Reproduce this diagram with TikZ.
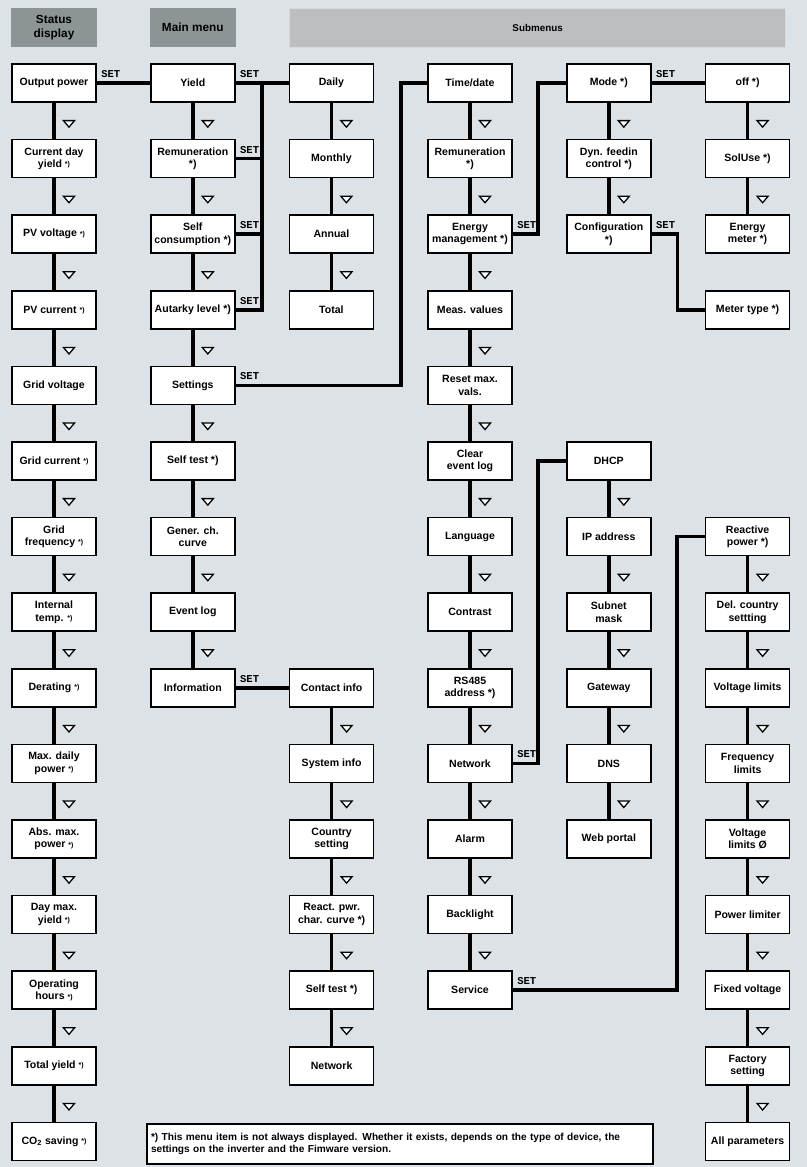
\documentclass[tikz,border=0pt]{standalone}
\usepackage{fontspec}
\setmainfont{Liberation Sans}
\setmonofont{Liberation Mono}
\usetikzlibrary{shapes.geometric,positioning,calc}
\definecolor{panel}{HTML}{DCE2E5}
\definecolor{headdark}{HTML}{8D9496}
\definecolor{headlight}{HTML}{BDBEBF}
\newcommand\smstar{\raisebox{0.6pt}{\fontsize{5}{6}\selectfont *)}}

\begin{document}
\begin{tikzpicture}[
  font=\bfseries\fontsize{7.5}{8.8}\selectfont,
  node distance=0.94cm,
  item/.style={rectangle, draw=black, fill=white, line width=1.1pt, outer sep=0pt,
               minimum width=2.1cm, minimum height=0.95cm, align=center, inner sep=1pt},
  head/.style={rectangle, fill=headdark, minimum width=2.15cm, minimum height=0.975cm,
               align=center, font=\bfseries\fontsize{8.4}{9.8}\selectfont},
  sub/.style={rectangle, fill=headlight, draw=white!85!black, minimum width=12.4cm,
              minimum height=0.975cm, font=\bfseries\fontsize{7}{8}\selectfont},
  link/.style={line width=2.6pt, draw=black},
  tri/.style={regular polygon, regular polygon sides=3, shape border rotate=180,
              draw=black, fill=white, line width=0.9pt, inner sep=0pt, minimum size=0.32cm,
              xshift=0.375cm, yshift=-0.05cm, yscale=0.68},
  setlbl/.style={anchor=south west, inner sep=0pt, xshift=2.5pt, yshift=2.5pt,
                 font=\ttfamily\bfseries\fontsize{7.5}{8}\selectfont},
  note/.style={rectangle, draw=black, fill=white, line width=1.1pt, outer sep=0pt, text width=12.45cm,
               minimum height=1cm, align=left, inner sep=3pt, font=\bfseries\fontsize{7.2}{8.8}\selectfont},
]

\useasboundingbox (0,0) rectangle (20.175,-29.175);
\fill[panel] (0,0) rectangle (20.175,-29.175);

% headers
\node[head] (sd) at (1.35,-0.69) {Status\\display};
\node[head] (mm) at (4.82,-0.69) {Main menu};
\node[sub]  (sm) at (13.44,-0.69) {Submenus};

% status display
\node[item] (outp) at (1.35,-2.075) {Output power};
\node[item, below=of outp]   (cday)   {Current day\\yield \smstar};
\node[item, below=of cday]   (pvv)    {PV voltage \smstar};
\node[item, below=of pvv]    (pvc)    {PV current \smstar};
\node[item, below=of pvc]    (gridv)  {Grid voltage};
\node[item, below=of gridv]  (gridc)  {Grid current \smstar};
\node[item, below=of gridc]  (gridf)  {Grid\\frequency \smstar};
\node[item, below=of gridf]  (itemp)  {Internal\\temp. \smstar};
\node[item, below=of itemp]  (derat)  {Derating \smstar};
\node[item, below=of derat]  (maxd)   {Max. daily\\power \smstar};
\node[item, below=of maxd]   (absmax) {Abs. max.\\power \smstar};
\node[item, below=of absmax] (daymax) {Day max.\\yield \smstar};
\node[item, below=of daymax] (ophrs)  {Operating\\hours \smstar};
\node[item, below=of ophrs]  (toty)   {Total yield \smstar};
\node[item, below=of toty]   (co2)    {CO\textsubscript{2} saving \smstar};

% main menu
\node[item] (yield) at (4.82,-2.075) {Yield};
\node[item, below=of yield]  (remu)   {Remuneration\\*)};
\node[item, below=of remu]   (selfc)  {Self\\consumption *)};
\node[item, below=of selfc]  (autark) {Autarky level *)};
\node[item, below=of autark] (sett)   {Settings};
\node[item, below=of sett]   (stest)  {Self test *)};
\node[item, below=of stest]  (gener)  {Gener. ch.\\curve};
\node[item, below=of gener]  (evlog)  {Event log};
\node[item, below=of evlog]  (info)   {Information};

% submenus: yield, information
\node[item] (daily) at (8.285,-2.075) {Daily};
\node[item, below=of daily]   (month)  {Monthly};
\node[item, below=of month]   (annual) {Annual};
\node[item, below=of annual]  (total)  {Total};
\node[item, right=1.37cm of info] (contact) {Contact info};
\node[item, below=of contact] (sysinfo) {System info};
\node[item, below=of sysinfo] (country) {Country\\setting};
\node[item, below=of country] (reactc)  {React. pwr.\\char. curve *)};
\node[item, below=of reactc]  (stestb)  {Self test *)};
\node[item, below=of stestb]  (netb)    {Network};

% submenus: settings
\node[item] (td) at (11.75,-2.075) {Time/date};
\node[item, below=of td]     (remub)  {Remuneration\\*)};
\node[item, below=of remub]  (energy) {Energy\\management *)};
\node[item, below=of energy] (meas)   {Meas. values};
\node[item, below=of meas]   (reset)  {Reset max.\\vals.};
\node[item, below=of reset]  (clear)  {Clear\\event log};
\node[item, below=of clear]  (lang)   {Language};
\node[item, below=of lang]   (contr)  {Contrast};
\node[item, below=of contr]  (rs485)  {RS485\\address *)};
\node[item, below=of rs485]  (net)    {Network};
\node[item, below=of net]    (alarm)  {Alarm};
\node[item, below=of alarm]  (backl)  {Backlight};
\node[item, below=of backl]  (serv)   {Service};

% energy management, network
\node[item] (mode) at (15.22,-2.075) {Mode *)};
\node[item, below=of mode]   (dyn)    {Dyn. feedin\\control *)};
\node[item, below=of dyn]    (config) {Configuration\\*)};
\node[item] (dhcp) at (15.22,-11.525) {DHCP};
\node[item, below=of dhcp]   (ipaddr) {IP address};
\node[item, below=of ipaddr] (subnet) {Subnet\\mask};
\node[item, below=of subnet] (gatew)  {Gateway};
\node[item, below=of gatew]  (dns)    {DNS};
\node[item, below=of dns]    (webp)   {Web portal};

% mode, service
\node[item] (off) at (18.69,-2.075) {off *)};
\node[item, below=of off]    (soluse) {SolUse *)};
\node[item, below=of soluse] (emeter) {Energy\\meter *)};
\node[item, below=of emeter] (metert) {Meter type *)};
\node[item] (react) at (18.69,-13.415) {Reactive\\power *)};
\node[item, below=of react]  (delc)   {Del. country\\settting};
\node[item, below=of delc]   (voltl)  {Voltage limits};
\node[item, below=of voltl]  (freql)  {Frequency\\limits};
\node[item, below=of freql]  (voltlo) {Voltage\\limits Ø};
\node[item, below=of voltlo] (powl)   {Power limiter};
\node[item, below=of powl]   (fixv)   {Fixed voltage};
\node[item, below=of fixv]   (factory){Factory\\setting};
\node[item, below=of factory](allp)   {All parameters};

\node[note] (fn) at (10,-28.6) {*) This menu item is not always displayed. Whether it exists, depends on the type of device, the\\settings on the inverter and the Fimware version.};

% SET branches
\coordinate (trunk) at ($(yield.east)!0.5!(daily.west)$);
\coordinate (s1) at ($(td.west)+(-0.68,0)$);
\coordinate (s2) at ($(mode.west)+(-0.72,0)$);
\coordinate (s3) at ($(metert.west)+(-0.7,0)$);
\coordinate (s4) at ($(dhcp.west)+(-0.72,0)$);
\coordinate (s5) at ($(react.west)+(-0.72,0)$);

\draw[link] (outp.east) node[setlbl]{SET} -- (yield.west);
\draw[link] (yield.east) node[setlbl]{SET} -- (daily.west);
\draw[link] (remu.east) node[setlbl]{SET} -- (remu.east -| trunk);
\draw[link] (selfc.east) node[setlbl]{SET} -- (selfc.east -| trunk);
\draw[link] (autark.east) node[setlbl]{SET} -| (trunk);
\draw[link] (sett.east) node[setlbl]{SET} -| (s1) -- (td.west);
\draw[link] (energy.east) node[setlbl]{SET} -| (s2) -- (mode.west);
\draw[link] (mode.east) node[setlbl]{SET} -- (off.west);
\draw[link] (config.east) node[setlbl]{SET} -| (s3) -- (metert.west);
\draw[link] (info.east) node[setlbl]{SET} -- (contact.west);
\draw[link] (net.east) node[setlbl]{SET} -| (s4) -- (dhcp.west);
\draw[link] (serv.east) node[setlbl]{SET} -| (s5) -- (react.west);

% scroll down
\draw[link] (outp) -- node[tri]{} (cday);
\draw[link] (cday) -- node[tri]{} (pvv);
\draw[link] (pvv) -- node[tri]{} (pvc);
\draw[link] (pvc) -- node[tri]{} (gridv);
\draw[link] (gridv) -- node[tri]{} (gridc);
\draw[link] (gridc) -- node[tri]{} (gridf);
\draw[link] (gridf) -- node[tri]{} (itemp);
\draw[link] (itemp) -- node[tri]{} (derat);
\draw[link] (derat) -- node[tri]{} (maxd);
\draw[link] (maxd) -- node[tri]{} (absmax);
\draw[link] (absmax) -- node[tri]{} (daymax);
\draw[link] (daymax) -- node[tri]{} (ophrs);
\draw[link] (ophrs) -- node[tri]{} (toty);
\draw[link] (toty) -- node[tri]{} (co2);

\draw[link] (yield) -- node[tri]{} (remu);
\draw[link] (remu) -- node[tri]{} (selfc);
\draw[link] (selfc) -- node[tri]{} (autark);
\draw[link] (autark) -- node[tri]{} (sett);
\draw[link] (sett) -- node[tri]{} (stest);
\draw[link] (stest) -- node[tri]{} (gener);
\draw[link] (gener) -- node[tri]{} (evlog);
\draw[link] (evlog) -- node[tri]{} (info);

\draw[link] (daily) -- node[tri]{} (month);
\draw[link] (month) -- node[tri]{} (annual);
\draw[link] (annual) -- node[tri]{} (total);
\draw[link] (contact) -- node[tri]{} (sysinfo);
\draw[link] (sysinfo) -- node[tri]{} (country);
\draw[link] (country) -- node[tri]{} (reactc);
\draw[link] (reactc) -- node[tri]{} (stestb);
\draw[link] (stestb) -- node[tri]{} (netb);

\draw[link] (td) -- node[tri]{} (remub);
\draw[link] (remub) -- node[tri]{} (energy);
\draw[link] (energy) -- node[tri]{} (meas);
\draw[link] (meas) -- node[tri]{} (reset);
\draw[link] (reset) -- node[tri]{} (clear);
\draw[link] (clear) -- node[tri]{} (lang);
\draw[link] (lang) -- node[tri]{} (contr);
\draw[link] (contr) -- node[tri]{} (rs485);
\draw[link] (rs485) -- node[tri]{} (net);
\draw[link] (net) -- node[tri]{} (alarm);
\draw[link] (alarm) -- node[tri]{} (backl);
\draw[link] (backl) -- node[tri]{} (serv);

\draw[link] (mode) -- node[tri]{} (dyn);
\draw[link] (dyn) -- node[tri]{} (config);
\draw[link] (dhcp) -- node[tri]{} (ipaddr);
\draw[link] (ipaddr) -- node[tri]{} (subnet);
\draw[link] (subnet) -- node[tri]{} (gatew);
\draw[link] (gatew) -- node[tri]{} (dns);
\draw[link] (dns) -- node[tri]{} (webp);

\draw[link] (off) -- node[tri]{} (soluse);
\draw[link] (soluse) -- node[tri]{} (emeter);
\draw[link] (react) -- node[tri]{} (delc);
\draw[link] (delc) -- node[tri]{} (voltl);
\draw[link] (voltl) -- node[tri]{} (freql);
\draw[link] (freql) -- node[tri]{} (voltlo);
\draw[link] (voltlo) -- node[tri]{} (powl);
\draw[link] (powl) -- node[tri]{} (fixv);
\draw[link] (fixv) -- node[tri]{} (factory);
\draw[link] (factory) -- node[tri]{} (allp);

\end{tikzpicture}
\end{document}
